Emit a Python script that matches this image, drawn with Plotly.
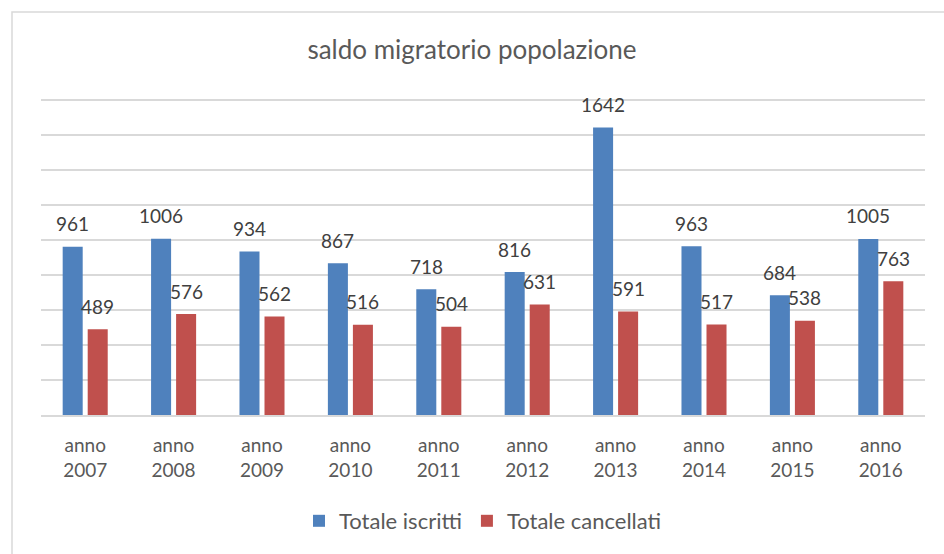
import plotly.graph_objects as go

categories = ["anno<br>2007", "anno<br>2008", "anno<br>2009", "anno<br>2010", "anno<br>2011",
              "anno<br>2012", "anno<br>2013", "anno<br>2014", "anno<br>2015", "anno<br>2016"]
iscritti = [961, 1006, 934, 867, 718, 816, 1642, 963, 684, 1005]
cancellati = [489, 576, 562, 516, 504, 631, 591, 517, 538, 763]
series_names = ["Totale iscritti", "Totale cancellati"]
title_text = "saldo migratorio popolazione"

BLUE = "#4F81BD"
RED = "#C0504D"
TXT = "#595959"
LBL = "#404040"
GRID = "#D9D9D9"
FONT = "Lato, Open Sans, sans-serif"

fig = go.Figure()
fig.add_trace(go.Bar(x=categories, y=iscritti, name=series_names[0], marker_color=BLUE,
                     marker_line_width=0))
fig.add_trace(go.Bar(x=categories, y=cancellati, name=series_names[1], marker_color=RED,
                     marker_line_width=0))

annotations = []
for cat, v in zip(categories, iscritti):
    annotations.append(dict(x=cat, y=v, text=str(v), showarrow=False, xshift=-12.5, yshift=23,
                            yanchor="middle", font=dict(family=FONT, size=19, color=LBL)))
for cat, v in zip(categories, cancellati):
    annotations.append(dict(x=cat, y=v, text=str(v), showarrow=False, xshift=12.5, yshift=23,
                            yanchor="middle", font=dict(family=FONT, size=19, color=LBL)))

L, R, T, B = 41, 19, 98, 139
W, H = 944, 554
pw, ph = W - L - R, H - T - B

def px_x(p):
    return (p - L) / pw

def px_y(p):
    return (H - B - p) / ph

fig.update_layout(
    width=W, height=H,
    margin=dict(l=L, r=R, t=T, b=B),
    paper_bgcolor="white", plot_bgcolor="white",
    barmode="group", bargap=0.434, bargroupgap=0.2,
    title=dict(text=title_text, x=0.5, xanchor="center", y=1 - 50 / H, yanchor="middle",
               font=dict(family=FONT, size=26, color=TXT)),
    font=dict(family=FONT, color=TXT),
    xaxis=dict(showgrid=False, showline=True, linecolor=GRID, linewidth=2,
               tickfont=dict(family=FONT, size=19, color=TXT), ticks="", ticklabelstandoff=12),
    yaxis=dict(range=[0, 1810], tick0=0, dtick=200, showgrid=True, gridcolor=GRID, gridwidth=1.5,
               showticklabels=False, zeroline=False, fixedrange=True),
    legend=dict(orientation="h", x=0.5, xanchor="center", y=px_y(521), yanchor="middle",
                font=dict(family=FONT, size=22, color=TXT), itemclick=False),
    annotations=annotations,
    shapes=[dict(type="path", xref="paper", yref="paper",
                 path=f"M {px_x(12)} {px_y(560)} L {px_x(12)} {px_y(12)} L {px_x(950)} {px_y(12)}",
                 line=dict(color=GRID, width=1.5))],
)

fig.write_html("out.html", config={"displayModeBar": False},
               post_script="document.body.style.margin='0';document.body.style.overflow='hidden';")
